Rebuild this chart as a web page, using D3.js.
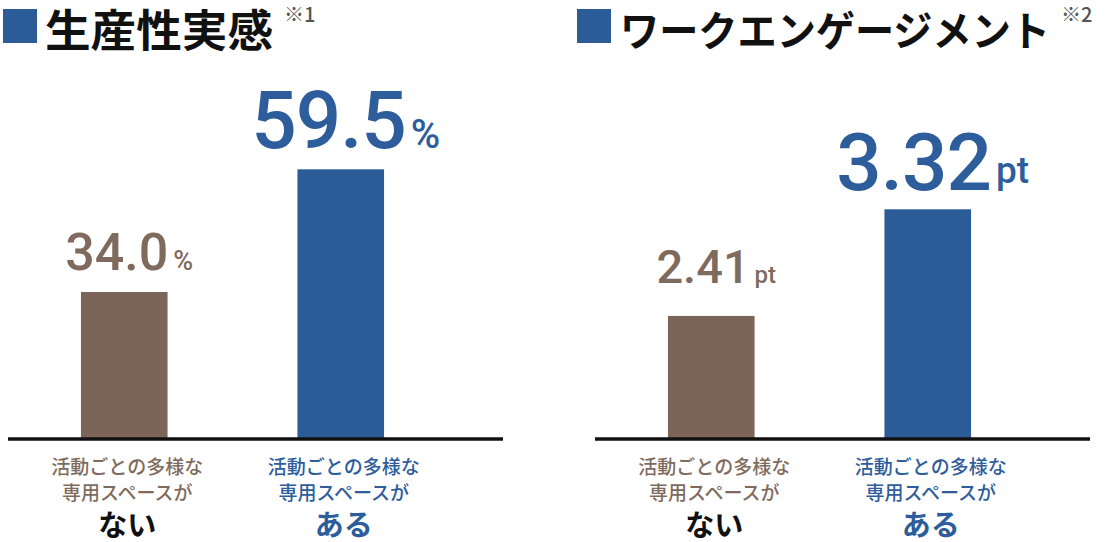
<!DOCTYPE html>
<html>
<head>
<meta charset="utf-8">
<script src="https://cdn.jsdelivr.net/npm/d3@7"></script>
<style>
html,body{margin:0;padding:0;background:#fff;}
svg{display:block;}
</style>
</head>
<body>
<svg id="chart" width="1108" height="542"></svg>
<script>
// ---- data ----
const categories = ["ない", "ある"];
const categoryLine1 = "活動ごとの多様な";
const categoryLine2 = "専用スペースが";
const panelTitles = ["生産性実感", "ワークエンゲージメント"];
const panelNotes = ["※1", "※2"];
const productivityValues = [34.0, 59.5];
const engagementValues = [2.41, 3.32];
const valueLabels1 = ["34.0", "59.5"];
const valueLabels2 = ["2.41", "3.32"];
const units = ["%", "pt"];
// value at which the drawn baseline sits, and top of each value domain
const domain1 = [3.45, 59.5];
const domain2 = [1.36, 3.32];

// ---- styles ----
const BROWN = "#7a6558", BLUE = "#2c5c98";
const LABEL_BROWN = "#7f6b5e", LABEL_BLUE = "#2e5d9c";
const barColors = [BROWN, BLUE];
const textColors = [LABEL_BROWN, LABEL_BLUE];
const bigColors = ["#111", LABEL_BLUE];
const CJK = "'Noto Sans CJK JP','Noto Sans CJK SC',sans-serif";
const NUM = "Roboto,'Liberation Sans',sans-serif";

const svg = d3.select("#chart");
const baseY = 439;

const panels = [
  {values: productivityValues, labels: valueLabels1, unit: units[0], domain: domain1,
   bandRange: [16, 449], axis: [8, 503], topY: 169.3, title: panelTitles[0], note: panelNotes[0],
   sqX: 3, titleX: 45, titleSize: 44, titleLen: 228, noteX: 284,
   numSize: [52, 80], numSpacing: [0, -1], unitSize: [27, 40], unitDy: [0, 0], gap: [22, 21]},
  {values: engagementValues, labels: valueLabels2, unit: units[1], domain: domain2,
   bandRange: [603, 1036], axis: [595, 1090], topY: 209.3, title: panelTitles[1], note: panelNotes[1],
   sqX: 577, titleX: 620, titleSize: 41, titleLen: 430, noteX: 1061,
   numSize: [47, 80], numSpacing: [0, -1], unitSize: [24, 37], unitDy: [0, -7], gap: [33, 19]}
];

panels.forEach(p => {
  const g = svg.append("g");
  const x = d3.scaleBand().domain(categories).range(p.bandRange).paddingInner(0.6).paddingOuter(0.3);
  const y = d3.scaleLinear().domain(p.domain).range([baseY, p.topY]);

  // title
  g.append("rect").attr("x", p.sqX).attr("y", 9).attr("width", 34).attr("height", 34).attr("fill", BLUE);
  g.append("text").attr("x", p.titleX).attr("y", 28).attr("dominant-baseline", "central")
    .attr("font-family", CJK).attr("font-weight", 700).attr("font-size", p.titleSize)
    .attr("textLength", p.titleLen).attr("lengthAdjust", "spacingAndGlyphs")
    .attr("fill", "#111").text(p.title);
  g.append("text").attr("x", p.noteX).attr("y", 13).attr("dominant-baseline", "central")
    .attr("font-family", CJK).attr("font-weight", 500).attr("font-size", 20)
    .attr("fill", "#555").text(p.note);

  // bars
  g.selectAll("rect.bar").data(p.values).join("rect").attr("class", "bar")
    .attr("x", (d, i) => x(categories[i]))
    .attr("width", x.bandwidth())
    .attr("y", d => y(d))
    .attr("height", d => baseY - y(d))
    .attr("fill", (d, i) => barColors[i]);

  // baseline axis
  g.append("line").attr("x1", p.axis[0]).attr("x2", p.axis[1])
    .attr("y1", baseY).attr("y2", baseY).attr("stroke", "#111").attr("stroke-width", 3.5);

  // value labels
  p.values.forEach((v, i) => {
    const cx = x(categories[i]) + x.bandwidth() / 2 + 5;
    const t = g.append("text").attr("x", cx).attr("y", y(v) - p.gap[i])
      .attr("text-anchor", "middle").attr("font-family", NUM).attr("font-weight", 500)
      .attr("fill", textColors[i]);
    t.append("tspan").attr("font-size", p.numSize[i]).attr("letter-spacing", p.numSpacing[i]).text(p.labels[i]);
    t.append("tspan").attr("font-size", p.unitSize[i]).attr("dx", 5).attr("dy", p.unitDy[i]).text(p.unit);
  });

  // category labels
  categories.forEach((c, i) => {
    const cx = x(c) + x.bandwidth() / 2 + 3;
    g.append("text").attr("x", cx).attr("y", 465).attr("text-anchor", "middle")
      .attr("dominant-baseline", "central").attr("font-family", CJK).attr("font-weight", 500)
      .attr("font-size", 19).attr("fill", textColors[i]).text(categoryLine1);
    g.append("text").attr("x", cx).attr("y", 491).attr("text-anchor", "middle")
      .attr("dominant-baseline", "central").attr("font-family", CJK).attr("font-weight", 500)
      .attr("font-size", 19).attr("fill", textColors[i]).text(categoryLine2);
    g.append("text").attr("x", cx).attr("y", 523).attr("text-anchor", "middle")
      .attr("dominant-baseline", "central").attr("font-family", CJK).attr("font-weight", 700)
      .attr("font-size", 29).attr("fill", bigColors[i]).text(c);
  });
});
</script>
</body>
</html>
